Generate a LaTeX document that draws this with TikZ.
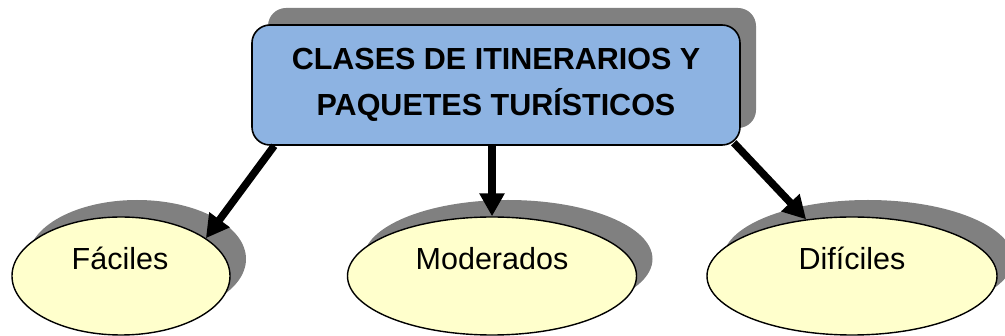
\documentclass[tikz,border=0pt]{standalone}
\usepackage{fontspec}
\setmainfont{Liberation Sans}
\usetikzlibrary{shapes.geometric,shadows,arrows.meta,calc}
\definecolor{boxblue}{HTML}{8DB3E2}
\definecolor{ellyellow}{HTML}{FFFFCC}
\definecolor{shadegray}{HTML}{808080}
\begin{document}
\begin{tikzpicture}[x=1pt,y=-1pt,
  sh/.style={drop shadow={shadow xshift=16pt,shadow yshift=17pt,opacity=1,fill=shadegray}},
  topbox/.style={rectangle,rounded corners=18pt,draw=black,line width=1.6pt,fill=boxblue,sh,
    minimum width=488pt,minimum height=120pt,inner sep=0pt,align=center,
    font=\bfseries\fontsize{30.5}{46}\selectfont},
  ell/.style={ellipse,draw=black,line width=1.4pt,fill=ellyellow,sh,inner sep=0pt,
    minimum height=118pt},
  lbl/.style={anchor=base,inner sep=0pt,font=\fontsize{30.5}{36}\selectfont},
  conn/.style={line width=7.5pt,-{Triangle[length=23pt,width=24pt]}}]
\useasboundingbox (0,0) rectangle (1005,336);
\node[topbox] (top) at (496,85) {CLASES DE ITINERARIOS Y\\PAQUETES TURÍSTICOS};
\node[ell,minimum width=218pt] (f) at (121,276) {};
\node[ell,minimum width=289pt] (m) at (492,276) {};
\node[ell,minimum width=290pt] (d) at (852,276) {};
\node[lbl] (ft) at (120,270) {Fáciles};
\node[lbl] (mt) at (492,270) {Moderados};
\node[lbl] (dt) at (852,270) {Difíciles};
\coordinate (s1) at ($(top.south west)+(23,0)$);
\coordinate (s2) at ($(top.south)+(-4,0)$);
\coordinate (s3) at ($(top.south east)+(-7,-3)$);
\draw[conn] (s1) -- (f.24);
\draw[conn] (s2) -- (m.north);
\draw[conn] (s3) -- (d.129);
\end{tikzpicture}
\end{document}
